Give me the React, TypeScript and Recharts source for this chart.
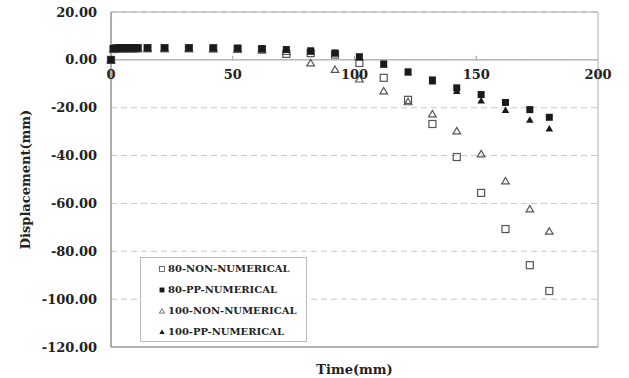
import React from 'react';
import {
  ScatterChart,
  Scatter,
  XAxis,
  YAxis,
  CartesianGrid,
  ReferenceLine,
  ReferenceDot,
  ReferenceArea,
  Legend,
} from 'recharts';

document.body.style.margin = '0';

// time axis (shared by all four series)
const times = [0, 1, 2, 3, 4, 5, 6, 7, 8, 9, 10, 11, 15, 22, 32, 42, 52, 62, 72, 82, 92, 102, 112, 122, 132, 142, 152, 162, 172, 180];

const non80 = [0, 4.5, 4.7, 4.8, 4.9, 4.9, 4.9, 4.9, 4.9, 4.9, 4.9, 4.9, 4.9, 4.9, 4.9, 4.8, 4.6, 4.3, 2.5, 2.8, 2.2, -1.3, -7.5, -16.7, -26.8, -40.6, -55.6, -70.7, -85.8, -96.6];
const pp80 = [0, 4.8, 4.9, 5, 5, 5, 5, 5, 5, 5, 5, 5, 5, 5, 5, 5, 4.9, 4.7, 4.3, 3.8, 2.9, 1.3, -1.7, -5, -8.4, -11.7, -14.5, -17.8, -20.8, -24];
const non100 = [0, 4.6, 4.7, 4.7, 4.7, 4.7, 4.7, 4.7, 4.7, 4.7, 4.7, 4.7, 4.7, 4.7, 4.7, 4.7, 4.5, 4.3, 3.5, -1.3, -4, -8, -13, -17.5, -22.6, -29.7, -39.3, -50.6, -62.3, -71.6];
const pp100 = [0, 4.6, 4.8, 4.9, 5, 5, 5, 5, 5, 5, 5, 5, 5, 5, 5, 5, 4.8, 4.6, 4.2, 3.4, 2.7, 1, -2, -5.3, -9, -13, -17, -21, -25, -28.7];

const seriesNames = ['80-NON-NUMERICAL', '80-PP-NUMERICAL', '100-NON-NUMERICAL', '100-PP-NUMERICAL'];
const yTicks = [20, 0, -20, -40, -60, -80, -100, -120];
const xTicks = [0, 50, 100, 150, 200];

const toPoints = (vals: number[]) => times.map((t, i) => ({ t, d: vals[i] }));

const FONT = "'DejaVu Serif', serif";
const INK = '#222';

// marker shapes
const OpenSquare = ({ cx, cy }: any) => (
  <rect x={cx - 3.5} y={cy - 3.5} width={7} height={7} fill="none" stroke="#555" strokeWidth={1.2} />
);
const FilledSquare = ({ cx, cy }: any) => (
  <rect x={cx - 3.5} y={cy - 3.5} width={7} height={7} fill="#1a1a1a" />
);
const OpenTriangle = ({ cx, cy }: any) => (
  <path d={`M${cx},${cy - 3.5} L${cx + 3.8},${cy + 3} L${cx - 3.8},${cy + 3} Z`} fill="none" stroke="#555" strokeWidth={1.2} />
);
const FilledTriangle = ({ cx, cy }: any) => (
  <path d={`M${cx},${cy - 3.5} L${cx + 3.8},${cy + 3} L${cx - 3.8},${cy + 3} Z`} fill="#1a1a1a" />
);

const legendIcons = [OpenSquare, FilledSquare, OpenTriangle, FilledTriangle];

const LegendBox = () => (
  <div
    style={{
      width: 167,
      height: 85,
      boxSizing: 'border-box',
      border: '1px solid #bbb',
      background: '#fff',
      fontFamily: FONT,
      fontWeight: 'bold',
      fontSize: 10,
      color: INK,
    }}
  >
    {seriesNames.map((name, i) => {
      const Icon = legendIcons[i];
      return (
        <div key={name} style={{ height: 21, display: 'flex', alignItems: 'center', paddingLeft: 17 }}>
          <svg width={8} height={8} style={{ marginRight: 2 }}>
            <g transform="translate(4,4) scale(0.7) translate(-4,-4)">
              <Icon cx={4} cy={4} />
            </g>
          </svg>
          <span>{name}</span>
        </div>
      );
    })}
  </div>
);

const XTickMark = ({ cx, cy }: any) => (
  <line x1={cx} x2={cx} y1={cy - 4} y2={cy} stroke="#999" strokeWidth={1} />
);

export default function App() {
  return (
    <div style={{ width: 629, height: 378, background: '#fff' }}>
      <ScatterChart width={629} height={378} margin={{ top: 12, right: 31, bottom: 0, left: 0 }}>
        <CartesianGrid vertical={false} strokeDasharray="6 4" stroke="#c8c8c8" />
        <ReferenceArea x1={0} x2={200} y1={-120} y2={20} fill="none" stroke="#aaa" strokeWidth={1} />
        <ReferenceLine y={0} stroke="#b8b8b8" strokeWidth={1.5} />
        <XAxis
          dataKey="t"
          type="number"
          domain={[0, 200]}
          ticks={xTicks}
          tick={false}
          tickLine={false}
          axisLine={{ stroke: '#999' }}
          height={31}
          label={{
            value: 'Time(mm)',
            position: 'insideBottom',
            offset: 4,
            fill: INK,
            fontFamily: FONT,
            fontWeight: 'bold',
            fontSize: 13,
          }}
        />
        <YAxis
          dataKey="d"
          type="number"
          domain={[-120, 20]}
          ticks={yTicks}
          interval={0}
          width={111}
          tickLine={false}
          tickSize={6}
          tickMargin={8}
          axisLine={{ stroke: '#888' }}
          tickFormatter={(v: number) => v.toFixed(2)}
          tick={{ fill: INK, fontFamily: FONT, fontWeight: 'bold', fontSize: 13 }}
          label={{
            value: 'Displacement(mm)',
            angle: -90,
            position: 'center',
            dx: -30,
            fill: INK,
            fontFamily: FONT,
            fontWeight: 'bold',
            fontSize: 13,
          }}
        />
        {xTicks.map((t) => (
          <ReferenceDot
            key={t}
            x={t}
            y={0}
            r={0}
            shape={t === 0 || t === 200 ? () => <g /> : XTickMark}
            label={{
              value: String(t),
              position: 'bottom',
              offset: 10,
              fill: INK,
              fontFamily: FONT,
              fontWeight: 'bold',
              fontSize: 13,
            }}
          />
        ))}
        <Scatter name={seriesNames[0]} data={toPoints(non80)} shape={OpenSquare} isAnimationActive={false} />
        <Scatter name={seriesNames[2]} data={toPoints(non100)} shape={OpenTriangle} isAnimationActive={false} />
        <Scatter name={seriesNames[3]} data={toPoints(pp100)} shape={FilledTriangle} isAnimationActive={false} />
        <Scatter name={seriesNames[1]} data={toPoints(pp80)} shape={FilledSquare} isAnimationActive={false} />
        <Legend
          layout="vertical"
          align="center"
          verticalAlign="middle"
          wrapperStyle={{ left: 140, top: 257, width: 167, height: 85 }}
          content={() => <LegendBox />}
        />
      </ScatterChart>
    </div>
  );
}
